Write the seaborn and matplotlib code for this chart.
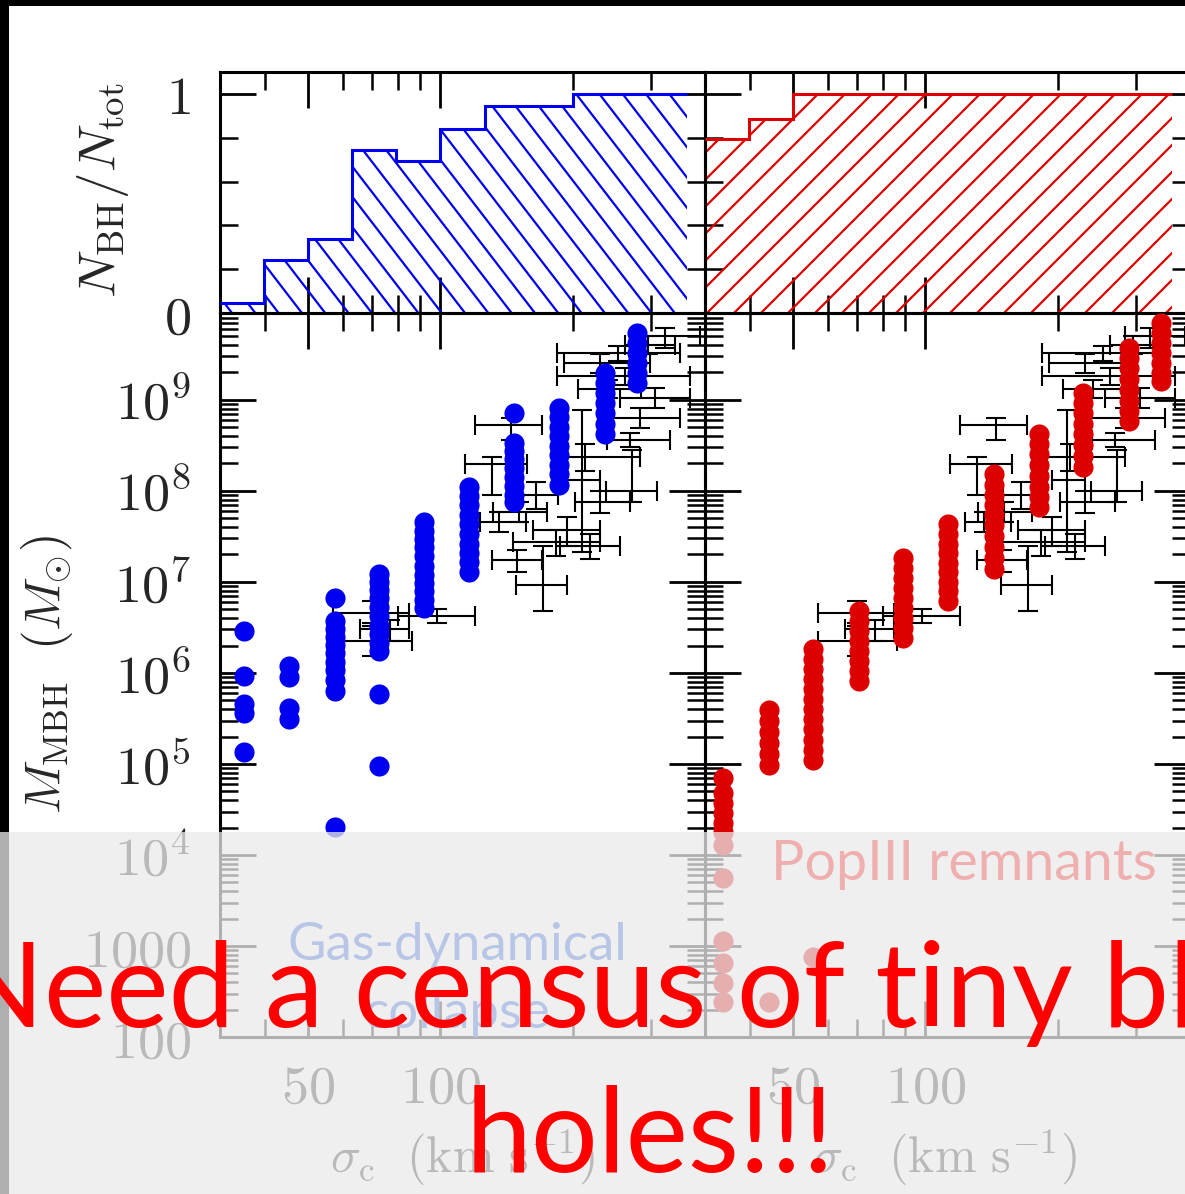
import numpy as np
import pandas as pd
import matplotlib
matplotlib.use("Agg")
import matplotlib.pyplot as plt
import seaborn as sns
from matplotlib.collections import LineCollection
from matplotlib.patches import Rectangle

# ---------------- data ----------------
hist_sigma_edges = [31.6, 39.8, 50.1, 63.1, 79.4, 100.0, 125.9, 158.5, 199.5, 251.2, 316.2, 363.0]
blue_frac = [0.045, 0.24, 0.34, 0.745, 0.695, 0.84, 0.945, 0.945, 1.0, 1.0, 1.0]
red_frac = [0.795, 0.886, 1.0, 1.0, 1.0, 1.0, 1.0, 1.0, 1.0, 1.0, 1.0]

blue_sigma_cols = [35.8, 45.3, 57.7, 72.6, 91.9, 116, 147, 186, 236, 279]
blue_logM_cols = [
    [6.46, 5.97, 5.66, 5.56, 5.13],
    [6.08, 5.95, 5.61, 5.49],
    [6.82, 6.57, 6.48, 6.40, 6.31, 6.22, 6.12, 6.03, 5.92, 5.80, 4.31],
    [7.09, 7.00, 6.91, 6.82, 6.72, 6.62, 6.52, 6.43, 6.33, 6.24, 5.77, 4.98],
    [7.66, 7.56, 7.47, 7.38, 7.28, 7.18, 7.08, 6.99, 6.90, 6.80, 6.71],
    [8.04, 7.94, 7.84, 7.74, 7.64, 7.53, 7.42, 7.32, 7.22, 7.11],
    [8.86, 8.53, 8.44, 8.35, 8.25, 8.15, 8.05, 7.96, 7.88],
    [8.91, 8.81, 8.70, 8.60, 8.49, 8.39, 8.28, 8.18, 8.07],
    [9.29, 9.19, 9.08, 8.97, 8.86, 8.74, 8.62],
    [9.73, 9.63, 9.52, 9.41, 9.30, 9.19],
]

red_sigma_cols = [34.7, 44.2, 55.6, 70.6, 88.9, 112.5, 143, 181, 228, 289, 343]
red_logM_cols = [
    [4.85, 4.68, 4.57, 4.46, 4.35, 4.25, 4.11, 3.75, 3.05, 2.81, 2.59, 2.39],
    [5.59, 5.47, 5.35, 5.23, 5.11, 4.99, 2.39],
    [6.26, 6.15, 6.04, 5.93, 5.82, 5.71, 5.60, 5.49, 5.38, 5.26, 5.15, 5.04, 2.88],
    [6.68, 6.57, 6.46, 6.35, 6.24, 6.13, 6.02, 5.91],
    [7.26, 7.15, 7.04, 6.93, 6.82, 6.71, 6.60, 6.49, 6.38],
    [7.64, 7.53, 7.42, 7.32, 7.21, 7.11, 7.00, 6.90, 6.79],
    [8.18, 8.07, 7.96, 7.85, 7.74, 7.62, 7.50, 7.38, 7.26, 7.14],
    [8.62, 8.51, 8.40, 8.28, 8.16, 8.04, 7.93, 7.82],
    [9.08, 8.97, 8.86, 8.74, 8.62, 8.50, 8.38, 8.26],
    [9.57, 9.46, 9.35, 9.23, 9.11, 8.99, 8.88, 8.77],
    [9.84, 9.73, 9.62, 9.51, 9.40, 9.30, 9.21],
]

obs_sigma = [252.6, 262, 144.6, 131, 209, 272, 269, 151, 194, 183, 171, 149, 98, 70, 70, 76.7, 306, 283, 323, 230, 213, 230, 218, 136, 240, 296, 165]
obs_sigma_lo = [183.7, 184, 119.7, 113.7, 194, 237, 239, 131.5, 162, 146, 148, 131, 80, 57, 57, 65.6, 255, 230, 283, 191, 187, 202, 187, 123, 205, 262, 150]
obs_sigma_hi = [349, 368, 169.8, 157, 230, 310, 331, 174, 230, 230, 194, 170, 120, 85, 86, 85, 368, 349, 387, 298, 283, 269, 255, 156, 285, 340, 185]
obs_logM = [9.51, 9.26, 8.72, 8.29, 8.12, 8.00, 8.56, 7.77, 7.57, 7.44, 6.97, 7.24, 6.62, 6.66, 6.35, 6.48, 9.02, 8.80, 9.70, 9.40, 8.37, 7.88, 7.39, 7.66, 9.12, 9.60, 7.95]
obs_logM_lo = [9.43, 9.16, 8.56, 7.96, 7.33, 7.88, 8.48, 7.66, 7.39, 7.28, 6.68, 7.11, 6.55, 6.55, 6.19, 6.35, 8.91, 8.69, 9.57, 9.30, 8.22, 7.76, 7.25, 7.55, 9.02, 9.50, 7.80]
obs_logM_hi = [9.59, 9.35, 8.80, 8.37, 8.89, 8.45, 8.64, 7.88, 7.71, 7.57, 7.39, 7.35, 6.70, 6.79, 6.51, 6.58, 9.13, 8.91, 9.79, 9.50, 8.52, 8.00, 7.53, 7.77, 9.22, 9.70, 8.10]

x_major = [50, 100]
x_major_labels = ["$50$", "$100$"]
x_minor = [40, 60, 70, 80, 90, 200, 300]
m_major = [1e2, 1e3, 1e4, 1e5, 1e6, 1e7, 1e8, 1e9]
m_major_labels = ["$100$", "$1000$", "$10^{4}$", "$10^{5}$", "$10^{6}$", "$10^{7}$", "$10^{8}$", "$10^{9}$"]
frac_major = [0, 1]
frac_major_labels = ["$0$", "$1$"]
frac_minor = [0.2, 0.4, 0.6, 0.8]

# ---------------- style ----------------
sns.set_style("ticks")
plt.rcParams["font.family"] = ["DejaVu Serif", "DejaVu Sans"]
plt.rcParams["mathtext.fontset"] = "cm"

W, H = 1185, 1194
fig = plt.figure(figsize=(W / 100, H / 100), dpi=100, facecolor="white")


def frame(x0, y0, x1, y1):
    return [x0 / W, 1 - y1 / H, (x1 - x0) / W, (y1 - y0) / H]


axTL = fig.add_axes(frame(220, 72, 705, 313))
axBL = fig.add_axes(frame(220, 313, 705, 1037))
axTR = fig.add_axes(frame(705, 72, 1190, 313))
axBR = fig.add_axes(frame(705, 313, 1190, 1037))

BLUE = "#0000f0"
RED = "#dd0000"
TICKFS = 39

m_minor = [s * 10.0 ** e for e in range(2, 10) for s in range(2, 10)]


def style_axis(ax, top, show_ylabels):
    ax.set_facecolor("none")
    for sp in ax.spines.values():
        sp.set_linewidth(2.2)
        sp.set_color("black")
        sp.set_visible(True)
    ax.set_xscale("log")
    ax.set_xlim(10 ** 1.5, 10 ** 2.6)
    ax.set_xticks(x_major)
    ax.set_xticks(x_minor, minor=True)
    if top:
        ax.set_ylim(0, 1.1)
        ax.set_yticks(frac_major)
        ax.set_yticks(frac_minor, minor=True)
        ax.set_xticklabels([])
        if show_ylabels:
            ax.set_yticklabels(frac_major_labels, fontsize=TICKFS)
        else:
            ax.set_yticklabels([])
    else:
        ax.set_yscale("log")
        ax.set_ylim(1e2, 10 ** 9.916)
        ax.set_yticks(m_major)
        ax.set_yticks(m_minor, minor=True)
        ax.set_xticklabels(x_major_labels, fontsize=TICKFS)
        if show_ylabels:
            ax.set_yticklabels(m_major_labels, fontsize=TICKFS)
        else:
            ax.set_yticklabels([])
    ax.xaxis.set_minor_formatter(matplotlib.ticker.NullFormatter())
    ax.yaxis.set_minor_formatter(matplotlib.ticker.NullFormatter())
    ax.tick_params(axis="both", which="major", direction="in", top=True, right=True,
                   bottom=True, left=True, length=26, width=2.0, color="black")
    ax.tick_params(axis="both", which="minor", direction="in", top=True, right=True,
                   bottom=True, left=True, length=13, width=1.8, color="black")
    ax.tick_params(axis="y", which="major", pad=21)
    ax.tick_params(axis="x", which="major", pad=18)


def hatched_hist(ax, frac, color, slope, spacing, phase):
    clip = ax.stairs(frac, hist_sigma_edges, baseline=0, fill=True,
                     facecolor="none", edgecolor="none", linewidth=0)
    ax.stairs(frac, hist_sigma_edges, baseline=None, color=color, linewidth=2.2, zorder=3)
    Wp, Hp = 485.0, 241.0
    segs = []
    for x0 in np.arange(-2 * Wp + phase, 2 * Wp, spacing):
        segs.append([(x0 / Wp, 0.0), ((x0 + Hp / slope) / Wp, 1.0)])
    lc = LineCollection(segs, colors=color, linewidths=1.6, transform=ax.transAxes, zorder=2)
    lc.set_clip_path(clip)
    ax.add_collection(lc, autolim=False)


def long_df(sigmas, logms):
    rows = []
    for s, col in zip(sigmas, logms):
        for lm in col:
            rows.append({"sigma": s, "M": 10 ** lm})
    return pd.DataFrame(rows)


def obs_errorbars(ax):
    s = np.array(obs_sigma)
    m = 10 ** np.array(obs_logM)
    xerr = [s - np.array(obs_sigma_lo), np.array(obs_sigma_hi) - s]
    yerr = [m - 10 ** np.array(obs_logM_lo), 10 ** np.array(obs_logM_hi) - m]
    ax.errorbar(s, m, xerr=xerr, yerr=yerr, fmt="none", ecolor="black",
                elinewidth=1.5, capsize=7, capthick=1.5, zorder=2)


for ax in (axTL, axTR, axBL, axBR):
    ax.set_xscale("log")
axBL.set_yscale("log")
axBR.set_yscale("log")

hatched_hist(axTL, blue_frac, BLUE, -1.3, 23.3, 3.4)
hatched_hist(axTR, red_frac, RED, 1.0, 27.0, 0.0)

obs_errorbars(axBL)
obs_errorbars(axBR)
sns.scatterplot(data=long_df(blue_sigma_cols, blue_logM_cols), x="sigma", y="M", ax=axBL,
                color=BLUE, s=210, linewidth=0, zorder=3, legend=False)
sns.scatterplot(data=long_df(red_sigma_cols, red_logM_cols), x="sigma", y="M", ax=axBR,
                color=RED, s=210, linewidth=0, zorder=3, legend=False)

style_axis(axTL, True, True)
style_axis(axTR, True, False)
style_axis(axBL, False, True)
style_axis(axBR, False, False)
for ax in (axTL, axTR, axBL, axBR):
    ax.set_xlabel("")
    ax.set_ylabel("")


def fx(x):
    return x / W


def fy(y):
    return 1 - y / H


# axis labels
fig.text(fx(103), fy(190), r"$N_{\rm BH}/N_{\rm tot}$", rotation=90, ha="center", va="center",
         fontsize=38, zorder=3)
fig.text(fx(47), fy(675), r"$M_{\rm MBH}\ \ (M_{\odot})$", rotation=90, ha="center", va="center",
         fontsize=36, zorder=3)
fig.text(fx(463), fy(1158), r"$\sigma_{\rm c}\ \ ({\rm km\ s^{-1}})$", ha="center", va="center",
         fontsize=36, zorder=3)
fig.text(fx(945), fy(1158), r"$\sigma_{\rm c}\ \ ({\rm km\ s^{-1}})$", ha="center", va="center",
         fontsize=36, zorder=3)

# annotations (under overlay)
fig.text(fx(457), fy(960), "Gas-dynamical", ha="center", va="baseline", fontsize=38,
         family=["Lato", "DejaVu Sans"], color="#2059db", zorder=3)
fig.text(fx(457), fy(1028), "collapse", ha="center", va="baseline", fontsize=38,
         family=["Lato", "DejaVu Sans"], color="#2059db", zorder=3)
fig.text(fx(964), fy(880), "PopIII remnants", ha="center", va="baseline", fontsize=40,
         family=["Lato", "DejaVu Sans"], color="#ff0000", zorder=3)

# slide frame
fig.patches.append(Rectangle((0, fy(6)), 1, 6 / H, transform=fig.transFigure,
                             facecolor="black", edgecolor="none", zorder=4))
fig.patches.append(Rectangle((0, 0), 9 / W, 1, transform=fig.transFigure,
                             facecolor="black", edgecolor="none", zorder=4))
# translucent overlay
fig.patches.append(Rectangle((0, 0), 1, fy(832), transform=fig.transFigure,
                             facecolor="#eaeaea", edgecolor="none", alpha=0.753, zorder=5))

# big red message
fig.text(fx(-46), fy(1027), "Need a census of tiny black", ha="left", va="baseline",
         fontsize=85, family=["Lato", "DejaVu Sans"], color="#ff0000", zorder=6)
fig.text(fx(650), fy(1172), "holes!!!", ha="center", va="baseline",
         fontsize=85, family=["Lato", "DejaVu Sans"], color="#ff0000", zorder=6)

fig.savefig("out.png", dpi=100, facecolor="white")
